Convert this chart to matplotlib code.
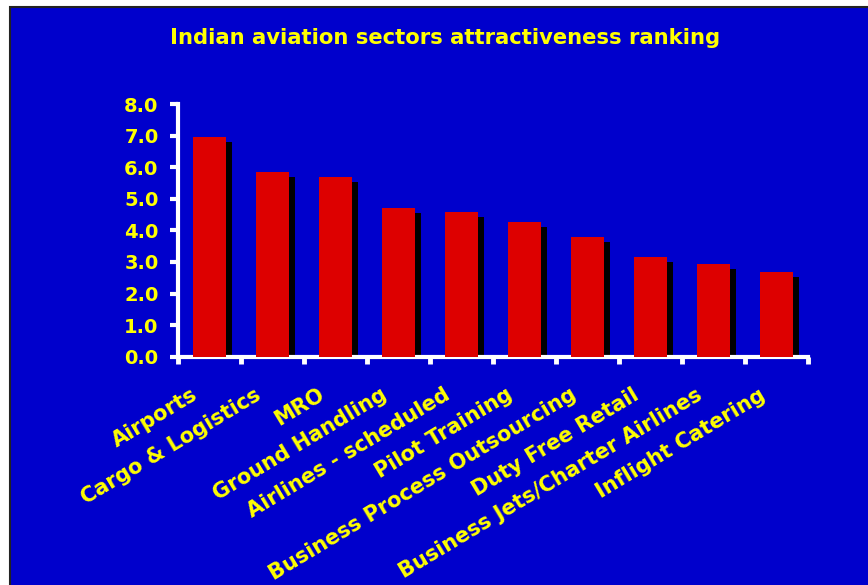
import matplotlib
matplotlib.use('Agg')

import matplotlib.pyplot as plt
import matplotlib.transforms as mtransforms
from matplotlib.patches import Rectangle
import numpy as np

sectors = ['Airports', 'Cargo & Logistics', 'MRO', 'Ground Handling',
           'Airlines - scheduled', 'Pilot Training', 'Business Process Outsourcing',
           'Duty Free Retail', 'Business Jets/Charter Airlines', 'Inflight Catering']
scores = [6.95, 5.85, 5.7, 4.7, 4.57, 4.28, 3.8, 3.17, 2.95, 2.67]
yticks = [0, 1, 2, 3, 4, 5, 6, 7, 8]

BLUE = '#0000CC'
RED = '#DD0000'
YELLOW = '#FFFF00'

W, H = 868, 585
fig = plt.figure(figsize=(W / 100, H / 100), dpi=100)
fig.patch.set_facecolor('white')

# blue slide background with thin black frame
fig.patches.append(Rectangle((10 / W, -0.01), 1.0, (H - 6.5) / H + 0.01,
                             transform=fig.transFigure, facecolor=BLUE,
                             edgecolor='#222222', linewidth=1.5, zorder=-1))

ax = fig.add_axes([178 / W, (H - 356.7) / H, (808 - 178) / W, (356.7 - 104) / H])
ax.set_zorder(2)
ax.set_facecolor('none')

x = np.arange(len(sectors)) + 0.5
bw = 0.51
shadow_dx = 0.095
shadow_dy = 0.16
ax.bar(x + shadow_dx, np.array(scores) - shadow_dy, width=bw, color='black', zorder=2)
ax.bar(x, scores, width=bw, color=RED, zorder=3)

ax.set_xlim(0, len(sectors))
ax.set_ylim(0, 8)

for s in ['top', 'right']:
    ax.spines[s].set_visible(False)
for s in ['left', 'bottom']:
    ax.spines[s].set_color('white')
    ax.spines[s].set_linewidth(3)
    ax.spines[s].set_capstyle('projecting')

ax.set_yticks(yticks)
ax.set_yticklabels([f'{v:.1f}' for v in yticks], color=YELLOW,
                   fontsize=14, fontweight='bold')
ax.tick_params(axis='y', direction='out', length=6, width=3, color='white', pad=8)

ax.set_xticks(np.arange(len(sectors) + 1))
ax.set_xticklabels([])
ax.tick_params(axis='x', direction='out', length=5, width=3.5, color='white')

offset = mtransforms.ScaledTranslation(-8 / 100, -28 / 100, fig.dpi_scale_trans)
trans = mtransforms.blended_transform_factory(ax.transData, ax.transAxes) + offset
for xi, name in zip(x, sectors):
    ax.text(xi, 0, name, transform=trans, rotation=31, ha='right', va='top',
            color=YELLOW, fontsize=15, fontweight='bold', clip_on=False)

fig.text(445 / W, 1 - 38 / H, 'Indian aviation sectors attractiveness ranking',
         ha='center', va='center', color=YELLOW, fontsize=15.2, fontweight='bold')

fig.savefig('out.png', dpi=100)
